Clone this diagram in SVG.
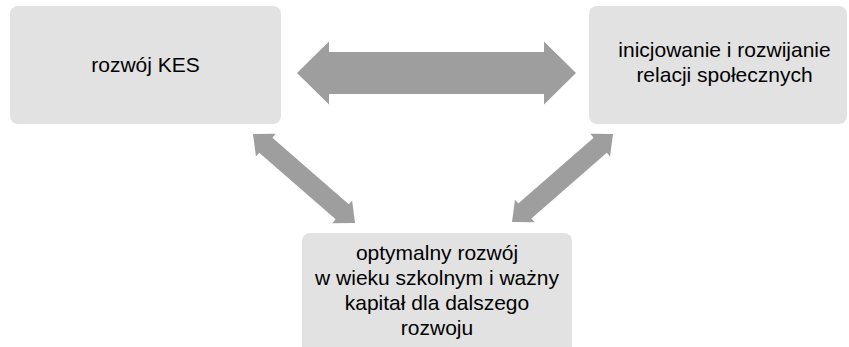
<svg xmlns="http://www.w3.org/2000/svg" width="849" height="347" viewBox="0 0 849 347">
  <style>
    .box { fill: #e2e2e2; }
    .arrow { fill: #9e9e9e; }
    .label { font-family: "Liberation Sans", Arial, sans-serif; font-size: 21px; fill: #000000; text-anchor: middle; }
  </style>
  <rect width="849" height="347" fill="#ffffff"/>
  <g id="node-kes">
    <rect class="box" x="10" y="6" width="271" height="118" rx="8" ry="8"/>
    <text class="label" x="145.5" y="72">rozwój KES</text>
  </g>
  <g id="node-relacje">
    <rect class="box" x="589" y="6" width="258" height="118" rx="8" ry="8"/>
    <text class="label" x="724.5" y="57">inicjowanie i rozwijanie</text>
    <text class="label" x="724.5" y="82">relacji społecznych</text>
  </g>
  <g id="node-rozwoj">
    <rect class="box" x="302" y="233" width="270" height="125" rx="8" ry="8"/>
    <text class="label" x="437" y="260">optymalny rozwój</text>
    <text class="label" x="437" y="285">w wieku szkolnym i ważny</text>
    <text class="label" x="437" y="310">kapitał dla dalszego</text>
    <text class="label" x="437" y="335">rozwoju</text>
  </g>
  <g id="connectors">
    <path class="arrow" transform="translate(297,73)" d="M0,0 L32,-31.5 L32,-21 L247,-21 L247,-31.5 L279,0 L247,31.5 L247,21 L32,21 L32,31.5 Z"/>
    <path class="arrow" transform="translate(253,134) rotate(41.1)" d="M0,0 L17,-15 L17,-10 L118.4,-10 L118.4,-15 L135.4,0 L118.4,15 L118.4,10 L17,10 L17,15 Z"/>
    <path class="arrow" transform="translate(613,134) rotate(138.9)" d="M0,0 L17,-15 L17,-10 L117,-10 L117,-15 L134,0 L117,15 L117,10 L17,10 L17,15 Z"/>
  </g>
</svg>
